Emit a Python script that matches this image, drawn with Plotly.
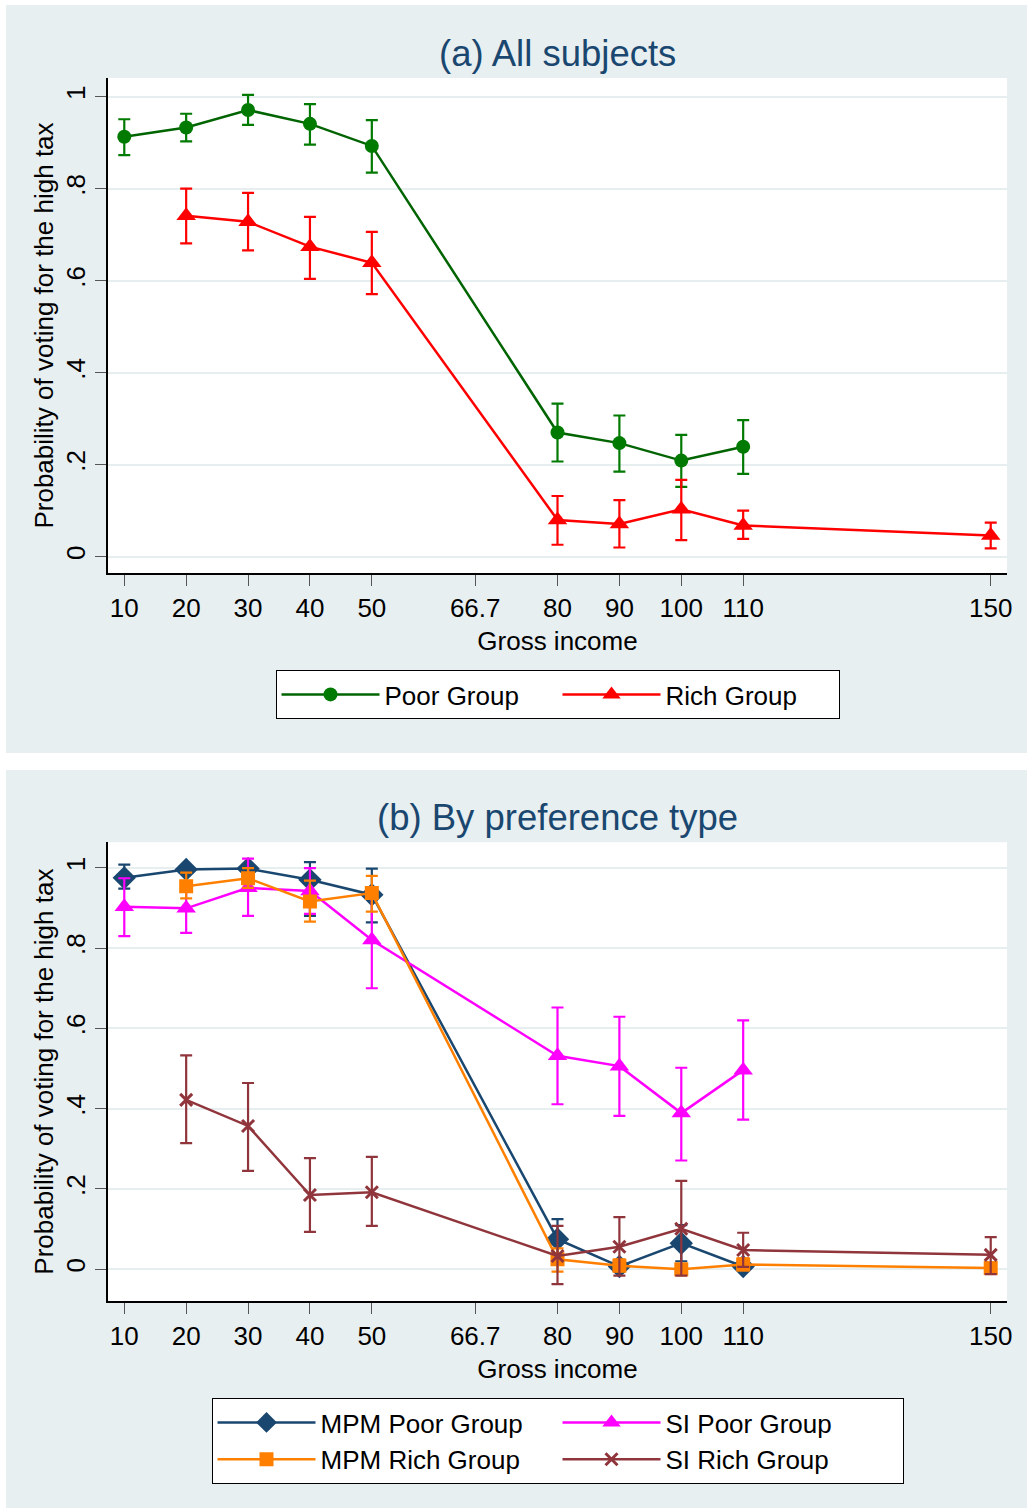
import plotly.graph_objects as go

# ---------------- data ----------------
tick_vals = [10, 20, 30, 40, 50, 66.7, 80, 90, 100, 110, 150]
tick_text = ["10", "20", "30", "40", "50", "66.7", "80", "90", "100", "110", "150"]
y_tick_vals = [0, 0.2, 0.4, 0.6, 0.8, 1]
y_tick_text = ["0", ".2", ".4", ".6", ".8", "1"]

income_poor = [10, 20, 30, 40, 50, 80, 90, 100, 110]
income_rich = [20, 30, 40, 50, 80, 90, 100, 110, 150]

# Panel (a)
poor_mean = [0.913, 0.933, 0.971, 0.941, 0.893, 0.270, 0.247, 0.209, 0.239]
poor_lo = [0.873, 0.903, 0.939, 0.896, 0.835, 0.207, 0.185, 0.152, 0.180]
poor_hi = [0.951, 0.963, 1.004, 0.984, 0.949, 0.333, 0.307, 0.265, 0.297]

rich_mean = [0.741, 0.728, 0.674, 0.639, 0.080, 0.071, 0.103, 0.068, 0.046]
rich_lo = [0.681, 0.666, 0.604, 0.571, 0.026, 0.020, 0.036, 0.039, 0.018]
rich_hi = [0.800, 0.791, 0.739, 0.706, 0.132, 0.123, 0.167, 0.100, 0.074]

# Panel (b)
mpm_poor_mean = [0.975, 0.996, 0.998, 0.970, 0.933, 0.075, 0.007, 0.065, 0.007]
mpm_poor_lo = [0.948, 0.990, 0.994, 0.880, 0.864, 0.025, 0.000, 0.020, 0.000]
mpm_poor_hi = [1.008, 1.002, 1.002, 1.014, 0.998, 0.125, 0.020, 0.110, 0.020]

mpm_rich_mean = [0.954, 0.974, 0.916, 0.937, 0.025, 0.009, 0.000, 0.012, 0.003]
mpm_rich_lo = [0.924, 0.950, 0.866, 0.891, -0.006, -0.005, -0.005, -0.003, -0.005]
mpm_rich_hi = [0.988, 0.999, 0.968, 0.980, 0.052, 0.025, 0.005, 0.027, 0.010]

si_poor_mean = [0.903, 0.899, 0.950, 0.942, 0.820, 0.532, 0.506, 0.389, 0.496]
si_poor_lo = [0.830, 0.838, 0.880, 0.885, 0.700, 0.411, 0.382, 0.271, 0.373]
si_poor_hi = [0.974, 0.959, 1.023, 0.999, 0.943, 0.652, 0.629, 0.502, 0.620]

si_rich_mean = [0.422, 0.357, 0.185, 0.192, 0.033, 0.056, 0.101, 0.048, 0.036]
si_rich_lo = [0.314, 0.245, 0.093, 0.108, -0.037, -0.016, -0.016, 0.006, -0.012]
si_rich_hi = [0.533, 0.464, 0.277, 0.280, 0.108, 0.130, 0.220, 0.091, 0.080]

# ---------------- styling ----------------
FONT = "Liberation Sans, Arial, sans-serif"
PANEL_BG = "#e8eff1"
GRID = "#e6eef0"
FS = 26

fig = go.Figure()


def add_series(x, mean, lo, hi, name, color, symbol, size, xa, ya, legend,
               line_color=None, mline=0):
    fig.add_trace(go.Scatter(
        x=x, y=mean, name=name, mode="lines+markers",
        xaxis=xa, yaxis=ya, legend=legend,
        line=dict(color=line_color or color, width=2.5),
        marker=dict(color=color, symbol=symbol, size=size,
                    line=dict(width=mline, color=color)),
        error_y=dict(type="data", symmetric=False,
                     array=[h - m for h, m in zip(hi, mean)],
                     arrayminus=[m - l for m, l in zip(mean, lo)],
                     color=color, thickness=2.2, width=6),
    ))


add_series(income_poor, poor_mean, poor_lo, poor_hi, "Poor Group", "#007a00",
           "circle", 14, "x", "y", "legend", line_color="#006400")
add_series(income_rich, rich_mean, rich_lo, rich_hi, "Rich Group", "#ff0000",
           "triangle-up", 17, "x", "y", "legend")

add_series(income_poor, mpm_poor_mean, mpm_poor_lo, mpm_poor_hi, "MPM Poor Group", "#1a476f",
           "diamond", 18, "x2", "y2", "legend2")
add_series(income_poor, si_poor_mean, si_poor_lo, si_poor_hi, "SI Poor Group", "#ff00ff",
           "triangle-up", 17, "x2", "y2", "legend2")
add_series(income_rich, mpm_rich_mean, mpm_rich_lo, mpm_rich_hi, "MPM Rich Group", "#ff8000",
           "square", 14, "x2", "y2", "legend2")
add_series(income_rich, si_rich_mean, si_rich_lo, si_rich_hi, "SI Rich Group", "#90353b",
           "x-thin-open", 12, "x2", "y2", "legend2", mline=3)

W, H = 1027, 1510
ML, MR, MT, MB = 108, 20, 78, 209
PW, PH = W - ML - MR, H - MT - MB


def py(pix):
    return (H - MB - pix) / PH


def px(pix):
    return (pix - ML) / PW


Y1_BOTTOM = py(573)
Y2_TOP = py(842.3)

xaxis_common = dict(
    range=[7.37, 152.63], tickmode="array", tickvals=tick_vals, ticktext=tick_text,
    showgrid=False, zeroline=False, showline=True, linecolor="black", linewidth=1.5,
    ticks="outside", ticklen=11, tickwidth=1.3, tickcolor="#555555",
    tickfont=dict(size=FS, color="black", family=FONT),
    title=dict(text="Gross income", font=dict(size=FS, color="black", family=FONT), standoff=10),
)
yaxis_common = dict(
    tickmode="array", tickvals=y_tick_vals, ticktext=y_tick_text, tickangle=-90,
    showgrid=True, gridcolor=GRID, gridwidth=2, zeroline=False,
    showline=True, linecolor="black", linewidth=1.5,
    ticks="outside", ticklen=11, tickwidth=1.3, tickcolor="#555555",
    tickfont=dict(size=FS, color="black", family=FONT),
    title=dict(text="Probability of voting for the high tax",
               font=dict(size=FS, color="black", family=FONT), standoff=0),
)

legend_common = dict(orientation="h", x=0.5, xanchor="center", yanchor="top",
                     bgcolor="white", bordercolor="black", borderwidth=1,
                     itemwidth=98, font=dict(size=FS, family=FONT, color="black"),
                     traceorder="normal")


def rect(x0, x1, y0, y1, color):
    return dict(type="rect", xref="paper", yref="paper", layer="below",
                x0=x0, x1=x1, y0=y0, y1=y1, fillcolor=color, line=dict(width=0))


fig.update_layout(
    width=W, height=H,
    margin=dict(l=ML, r=MR, t=MT, b=MB, autoexpand=False),
    paper_bgcolor="white", plot_bgcolor="white",
    font=dict(family=FONT, size=FS, color="black"),
    xaxis=dict(xaxis_common, anchor="y"),
    yaxis=dict(yaxis_common, domain=[Y1_BOTTOM, 1.0], range=[-0.0354, 1.0407], anchor="x"),
    xaxis2=dict(xaxis_common, anchor="y2"),
    yaxis2=dict(yaxis_common, domain=[0.0, Y2_TOP], range=[-0.079, 1.0635], anchor="x2"),
    legend=dict(legend_common, y=py(670), entrywidth=168),
    legend2=dict(legend_common, y=py(1398), entrywidth=232),
    showlegend=True,
    shapes=[
        # panel backgrounds
        rect(px(6), px(1027), py(753), py(5), PANEL_BG),
        rect(px(6), px(1027), py(1508), py(770), PANEL_BG),
        # white plot regions
        rect(0, 1, Y1_BOTTOM, 1.0, "white"),
        rect(0, 1, 0, Y2_TOP, "white"),
    ],
    annotations=[
        dict(text="(a) All subjects", xref="paper", yref="paper", x=px(557), y=py(54),
             xanchor="center", yanchor="middle", showarrow=False,
             font=dict(size=36.5, color="#1a476f", family=FONT)),
        dict(text="(b) By preference type", xref="paper", yref="paper", x=px(557), y=py(818),
             xanchor="center", yanchor="middle", showarrow=False,
             font=dict(size=36.5, color="#1a476f", family=FONT)),
    ],
)

fig.write_html("out.html", config={"displayModeBar": False},
               post_script="document.body.style.margin='0';document.body.style.overflow='hidden';")
